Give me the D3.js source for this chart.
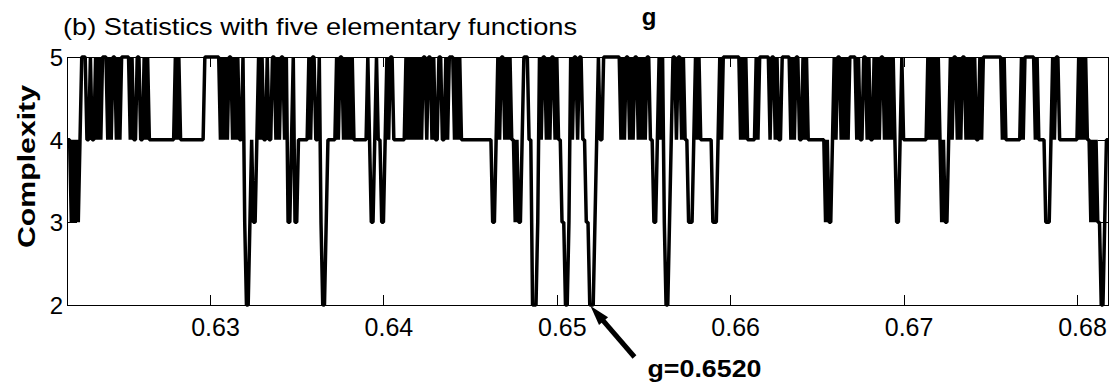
<!DOCTYPE html>
<html><head><meta charset="utf-8">
<script src="https://cdn.jsdelivr.net/npm/d3@7"></script>
<style>
body{margin:0;background:#fff}
svg{display:block}
text{font-family:"Liberation Sans",Arial,Helvetica,sans-serif;fill:#000}
</style>
</head><body>
<svg id="c" width="1120" height="384"></svg>
<script>
// ---- data ----
const gStart = 0.6218;
const gStep = 0.0001;
// complexity value at each g sample (one digit per sample)
const complexityBlocks = [
  // g 0.6218 - 0.6317
  "44343434"+"5554"+"4544"+"54545"+"5545"+"455454"+"55555"+"4544"+"554"+"45454"+
  "44444444444444"+"545"+"4444444444444"+"45"+"55555555"+"45454"+"55"+"45454",
  // g 0.6318 - 0.6417
  "45"+"32234334"+"54544544554545545"+"3345334"+"44444"+"54554"+"4532234"+"4444"+
  "545545454"+"544"+"444444"+"543345443345"+"4554"+"444444"+"54545",
  // g 0.6418 - 0.6517
  "45454"+"55"+"455454"+"45544"+"5455545454"+"44444"+"44444"+"44444"+"44"+"334"+
  "545545454"+"434334"+"5554"+"42223"+"5455454"+"55454"+"433223"+"5455455443",
  // g 0.6518 - 0.6617
  "3222"+"345445"+"555555555"+"454554545545454554"+"4334"+"5453223"+"455455454"+
  "43334"+"545"+"4444444"+"3334545"+"555555555"+"4545"+"44444"+"545",
  // g 0.6618 - 0.6717
  "55555"+"4554544"+"55555"+"45455445"+"454"+"44444444"+"434334"+"5455454545"+
  "5554"+"5445545445"+"45455454"+"545433454"+"4444444444444"+"5454",
  // g 0.6718 - 0.6818
  "545"+"434334"+"54554"+"54554"+"54545"+"44545"+"5555555555"+"454"+"44444444"+
  "545"+"55555"+"45444"+"43334"+"54554"+"4444444444"+"545454"+"434343322344"
];
const complexity = complexityBlocks.join("").split("").map(Number);
const gValues = complexity.map((_, i) => gStart + i * gStep);

const xTicks = [0.63, 0.64, 0.65, 0.66, 0.67, 0.68];
const xTickLabels = ["0.63", "0.64", "0.65", "0.66", "0.67", "0.68"];
const yTicks = [2, 3, 4, 5];
const yTickLabels = ["2", "3", "4", "5"];
const xDomain = [0.62175, 0.68179];
const yDomain = [2, 5];
const titleText = "(b) Statistics with five elementary functions";
const topLabel = "g";
const yLabel = "Complexity";
const marked = { g: 0.6520, c: 2, label: "g=0.6520" };

// ---- layout ----
const plot = { left: 67, right: 1108, top: 57, bottom: 305 };
const svg = d3.select("#c");

const x = d3.scaleLinear().domain(xDomain).range([plot.left, plot.right]);
const y = d3.scaleLinear().domain(yDomain).range([plot.bottom, plot.top]);

// data line
const line = d3.line()
  .x((d, i) => x(gValues[i]))
  .y(d => y(d));
svg.append("path")
  .datum(complexity)
  .attr("d", line)
  .attr("fill", "none")
  .attr("stroke", "#000")
  .attr("stroke-width", 3.5)
  .attr("stroke-linejoin", "bevel");

// axes
const tickLen = 10;
const gx = svg.append("g").attr("transform", `translate(0,${plot.bottom})`)
  .call(d3.axisBottom(x).tickValues(xTicks).tickFormat((d, i) => xTickLabels[i])
    .tickSizeInner(-tickLen).tickSizeOuter(0));
gx.selectAll("text").attr("y", 31).attr("dy", 0).attr("dx", 5)
  .style("font-size", "25px");

svg.append("g").attr("transform", `translate(0,${plot.top})`)
  .call(d3.axisTop(x).tickValues(xTicks).tickFormat("")
    .tickSizeInner(-tickLen).tickSizeOuter(0));

const gy = svg.append("g").attr("transform", `translate(${plot.left},0)`)
  .call(d3.axisLeft(y).tickValues(yTicks).tickFormat((d, i) => yTickLabels[i])
    .tickSizeInner(-tickLen).tickSizeOuter(0));
gy.selectAll("text").attr("x", -4).attr("dy", "0.36em").style("font-size", "24px");

svg.append("g").attr("transform", `translate(${plot.right},0)`)
  .call(d3.axisRight(y).tickValues(yTicks).tickFormat("")
    .tickSizeInner(-tickLen).tickSizeOuter(0));

svg.selectAll(".domain, .tick line").attr("stroke", "#000").attr("stroke-width", 1)
  .attr("shape-rendering", "crispEdges");

// titles
svg.append("text").attr("x", 63).attr("y", 35)
  .attr("textLength", 514).attr("lengthAdjust", "spacingAndGlyphs")
  .style("font-size", "24px").text(titleText);

svg.append("text").attr("x", 649).attr("y", 25).attr("text-anchor", "middle")
  .style("font-size", "24px").style("font-weight", "bold").text(topLabel);

svg.append("text").attr("transform", "translate(35,166.5) rotate(-90)")
  .attr("text-anchor", "middle")
  .attr("textLength", 163).attr("lengthAdjust", "spacingAndGlyphs")
  .style("font-size", "24px").style("font-weight", "bold").text(yLabel);

// annotation arrow
const tip = [x(marked.g) - 1, y(marked.c) + 1];
const tail = [tip[0] + 44, tip[1] + 51];
const dx = tip[0] - tail[0], dy = tip[1] - tail[1];
const len = Math.hypot(dx, dy);
const ux = dx / len, uy = dy / len;
const headLen = 20, headHalf = 6;
const base = [tip[0] - headLen * ux, tip[1] - headLen * uy];
svg.append("line")
  .attr("x1", tail[0]).attr("y1", tail[1])
  .attr("x2", base[0] + 3 * ux).attr("y2", base[1] + 3 * uy)
  .attr("stroke", "#000").attr("stroke-width", 5);
svg.append("path")
  .attr("d", `M${tip[0]},${tip[1]}L${base[0] - headHalf * uy},${base[1] + headHalf * ux}L${base[0] + headHalf * uy},${base[1] - headHalf * ux}Z`)
  .attr("fill", "#000");
svg.append("text").attr("x", tip[0] + 57).attr("y", tip[1] + 71)
  .attr("textLength", 114).attr("lengthAdjust", "spacingAndGlyphs")
  .style("font-size", "24px").style("font-weight", "bold").text(marked.label);
</script>
</body></html>
